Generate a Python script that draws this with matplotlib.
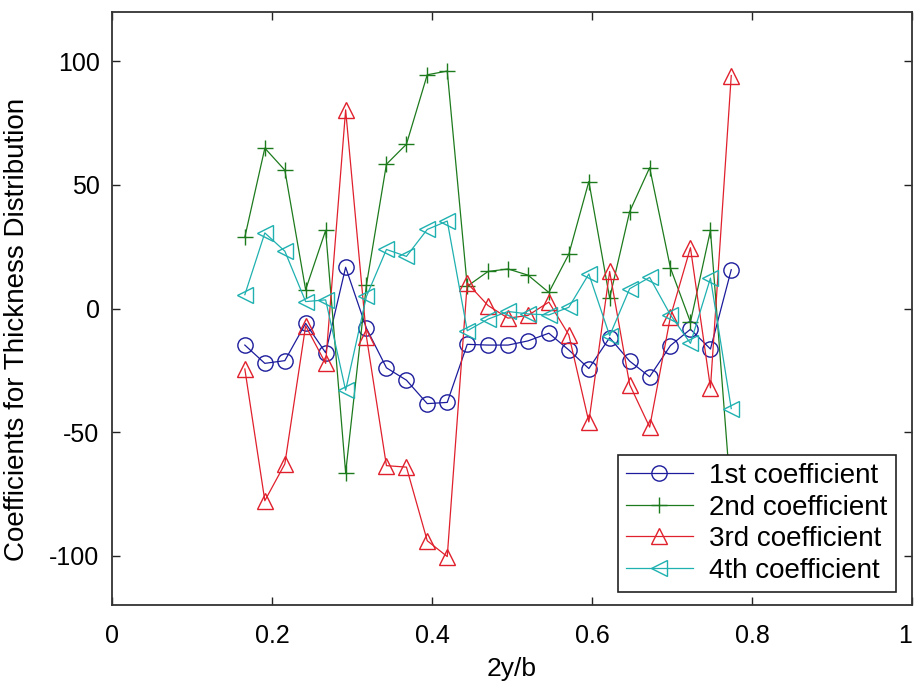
import matplotlib
matplotlib.use("Agg")
from matplotlib import pyplot as plt

plt.rcParams["axes.unicode_minus"] = False

# spanwise station 2y/b
span = [0.166, 0.191, 0.216, 0.242, 0.267, 0.292, 0.318, 0.343, 0.368, 0.394,
        0.419, 0.444, 0.470, 0.495, 0.520, 0.546, 0.571, 0.596, 0.622, 0.647,
        0.672, 0.698, 0.723, 0.748, 0.774]

coef1 = [-14.8, -22.2, -21.1, -6.0, -17.9, 16.7, -8.0, -24.0, -29.0, -38.5,
         -38.0, -14.5, -14.8, -14.8, -13.1, -10.0, -16.8, -24.3, -11.8, -21.3,
         -27.6, -15.0, -8.4, -16.4, 15.7]
coef2 = [28.9, 64.9, 56.0, 7.6, 31.6, -66.5, 9.6, 58.4, 66.5, 94.6,
         96.1, 9.0, 15.0, 16.0, 13.5, 6.5, 22.0, 51.4, 4.2, 39.2,
         57.0, 16.4, -5.5, 31.6, -78.0]
coef3 = [-24.5, -77.8, -62.9, -7.0, -22.2, 80.4, -11.4, -63.6, -64.2, -94.0,
         -100.4, 10.3, 1.2, -3.9, -2.8, 2.6, -10.7, -45.9, 15.0, -30.8,
         -48.0, -3.3, 24.6, -32.1, 94.3]
coef4 = [5.6, 30.6, 23.2, 2.8, 3.5, -33.1, 4.9, 23.9, 21.1, 32.0,
         35.4, -9.0, -4.3, -1.2, -2.2, -2.6, 0.5, 14.0, -11.0, 8.0,
         12.6, -2.6, -14.1, 12.3, -40.5]

labels = ["1st coefficient", "2nd coefficient", "3rd coefficient", "4th coefficient"]
colors = ["#1c1c9c", "#1d7a1d", "#e0202c", "#1fb0b0"]
markers = ["o", "+", "^", "<"]

fam = ["Liberation Sans", "DejaVu Sans"]

fig = plt.figure(figsize=(9.16, 6.83), dpi=100)
ax = fig.add_axes([0.1223, 0.1142, 0.8734, 0.8682])

for ys, c, m, lab in zip([coef1, coef2, coef3, coef4], colors, markers, labels):
    ax.plot(span, ys, color=c, marker=m, markersize=11, markerfacecolor="none",
            markeredgecolor=c, markeredgewidth=1.0, linewidth=0.9, label=lab)

ax.set_xlim(0, 1)
ax.set_ylim(-120, 120)
ax.set_xticks([0, 0.2, 0.4, 0.6, 0.8, 1])
ax.set_xticklabels(["0", "0.2", "0.4", "0.6", "0.8", "1"])
ax.set_yticks([-100, -50, 0, 50, 100])
ax.tick_params(direction="in", length=6, width=1, top=True, right=True,
               labelsize=18, colors="#222222")
ax.tick_params(axis="x", pad=14)
ax.tick_params(axis="y", pad=9)
for t in ax.get_xticklabels() + ax.get_yticklabels():
    t.set_family(fam)
    t.set_color("black")
ax.get_xticklabels()[-1].set_horizontalalignment("right")
for s in ax.spines.values():
    s.set_color("#333333")
    s.set_linewidth(1.3)

ax.set_xlabel("2y/b", fontsize=19, family=fam, labelpad=6)
ax.set_ylabel("Coefficients for Thickness Distribution", fontsize=20, family=fam)
ax.yaxis.set_label_coords(-0.1025, 0.464)

leg = ax.legend(loc="lower right", bbox_to_anchor=(896 / 916, 1 - 592 / 683),
                bbox_transform=fig.transFigure, borderaxespad=0, fancybox=False,
                framealpha=1, edgecolor="#222222", prop={"family": fam, "size": 20},
                handlelength=2.4, labelspacing=0.2, handletextpad=0.6,
                borderpad=0.3)
leg.get_frame().set_linewidth(1.2)

fig.savefig("out.png", dpi=100)
